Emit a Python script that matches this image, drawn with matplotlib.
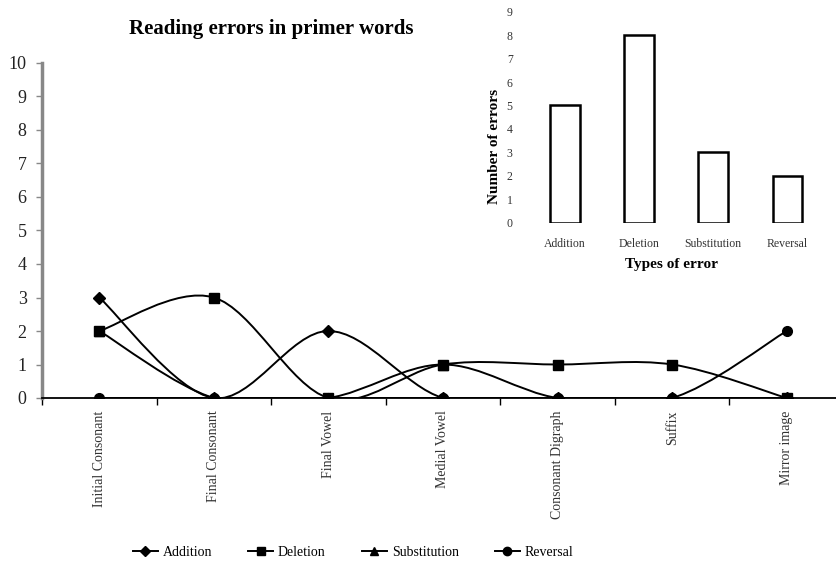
import matplotlib
matplotlib.use("Agg")
import matplotlib.pyplot as plt
from matplotlib.path import Path
from matplotlib.patches import PathPatch
from matplotlib.lines import Line2D

plt.rcParams['font.family'] = ['Liberation Serif', 'DejaVu Serif']

# error categories on the main chart
categories = ['Initial Consonant', 'Final Consonant', 'Final Vowel', 'Medial Vowel',
              'Consonant Digraph', 'Suffix', 'Mirror image']
addition = [3, 0, 2, 0, 0, 0, 0]
deletion = [2, 3, 0, 1, 1, 1, 0]
substitution = [2, 0, 0, 1, 0, 0, 0]
reversal = [0, 0, 0, 0, 0, 0, 2]

# inset bar chart
error_types = ['Addition', 'Deletion', 'Substitution', 'Reversal']
error_totals = [5, 8, 3, 2]


def smooth_path(xs, ys):
    # Excel-like smoothed line: cubic bezier through every point
    n = len(xs)
    verts = [(xs[0], ys[0])]
    codes = [Path.MOVETO]
    for i in range(n - 1):
        x0, y0 = (xs[i - 1], ys[i - 1]) if i > 0 else (xs[i], ys[i])
        x1, y1 = xs[i], ys[i]
        x2, y2 = xs[i + 1], ys[i + 1]
        x3, y3 = (xs[i + 2], ys[i + 2]) if i + 2 < n else (x2, y2)
        c1 = (x1 + (x2 - x0) / 6.0, y1 + (y2 - y0) / 6.0)
        c2 = (x2 - (x3 - x1) / 6.0, y2 - (y3 - y1) / 6.0)
        verts += [c1, c2, (x2, y2)]
        codes += [Path.CURVE4] * 3
    return Path(verts, codes)


fig = plt.figure(figsize=(8.37, 5.71), dpi=100)
W, H = 837.0, 571.0

# main axes: left 42px .. 844px, y 0 at 398px, 10 at 63px
ax = fig.add_axes([42 / W, (H - 398) / H, 802 / W, 335 / H])
x = list(range(len(categories)))

series = [
    ('Addition', addition, 'D', 6),
    ('Deletion', deletion, 's', 7),
    ('Substitution', substitution, '^', 7),
    ('Reversal', reversal, 'o', 7),
]
handles = []
for name, vals, mk, ms in series:
    patch = PathPatch(smooth_path(x, vals), fill=False, edgecolor='black', lw=1.4)
    ax.add_patch(patch)
    ax.plot(x, vals, linestyle='none', marker=mk, markersize=ms, color='black', zorder=3)
    handles.append(Line2D([], [], color='black', lw=1.4, marker=mk, markersize=ms - 1, label=name))

ax.set_xlim(-0.5, 6.5)
ax.set_ylim(0, 10)
ax.set_yticks(range(0, 11))
ax.tick_params(axis='y', length=4, width=1, color='#888888', labelsize=13, pad=7, labelcolor='#222222')
ax.set_xticks(x)
ax.set_xticklabels(categories, rotation=90, va='top', ha='center', fontsize=10, color='#333333')
ax.set_xticks([i - 0.5 for i in range(len(categories) + 1)], minor=True)
ax.tick_params(axis='x', which='major', length=0, pad=9)
ax.tick_params(axis='x', which='minor', length=5, width=1, color='black')
ax.spines['top'].set_visible(False)
ax.spines['right'].set_visible(False)
ax.spines['left'].set_color('#888888')
ax.spines['left'].set_linewidth(2.5)
ax.spines['bottom'].set_color('black')
ax.spines['bottom'].set_linewidth(1.3)
ax.set_facecolor('none')

fig.text(271 / W, 1 - 29 / H, 'Reading errors in primer words', ha='center', va='center',
         fontsize=15, fontweight='bold')

fig.legend(handles=handles, loc='center', bbox_to_anchor=(353 / W, 1 - 552 / H), ncol=4,
           frameon=False, fontsize=10, handlelength=1.8, handletextpad=0.35, columnspacing=2.6)

# inset bar chart
ins = fig.add_axes([528 / W, (H - 222.7) / H, 296.5 / W, 211 / H])
ins.bar(range(len(error_types)), error_totals, width=0.4, color='white', edgecolor='black', lw=1.8)
ins.set_xlim(-0.5, 3.5)
ins.set_ylim(0, 9)
ins.set_yticks(range(0, 10))
ins.set_xticks(range(len(error_types)))
ins.set_xticklabels(error_types, fontsize=8.5, color='#333333')
ins.tick_params(axis='y', length=0, pad=11, labelsize=8.5, labelcolor='#333333')
ins.tick_params(axis='x', length=0, pad=11)
for s in ins.spines.values():
    s.set_visible(False)
ins.set_facecolor('none')
ins.set_xlabel('Types of error', fontsize=11, fontweight='bold')
ins.set_ylabel('Number of errors', fontsize=11, fontweight='bold')
ins.xaxis.set_label_coords(0.485, -0.165)
ins.yaxis.set_label_coords(-0.09, 0.36)

fig.savefig('out.png', dpi=100)
